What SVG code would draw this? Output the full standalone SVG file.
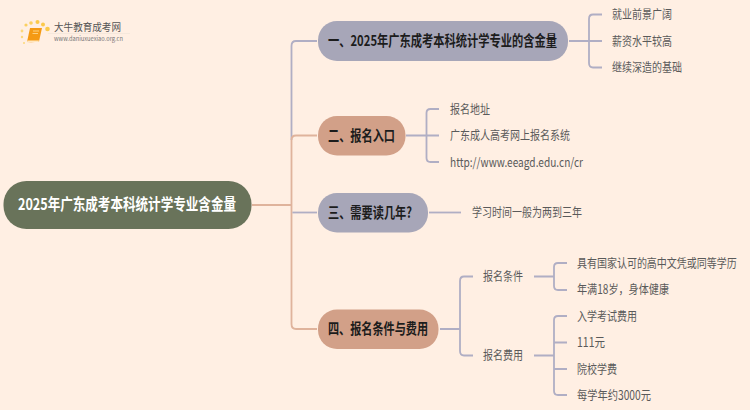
<svg xmlns="http://www.w3.org/2000/svg" width="750" height="410" viewBox="0 0 750 410">
<style>
text{font-family:"Noto Sans CJK SC","Liberation Sans",sans-serif}
.c{fill:none;stroke-width:1.800;stroke-linecap:butt}
.p{stroke:#b0aec4}
.s{stroke:#dfb39c}
.h{font-size:14.500px;font-weight:700;fill:#1c1c1c}
.l{font-size:12.500px;fill:#5a5a5a}
</style>
<rect width="750" height="410" fill="#ffefe3"/>
<g id="connectors">
<path class="c p" d="M317 41H296Q291.500 41 291.500 46V140"/>
<path class="c s" d="M317 135.500H296Q291.500 135.500 291.500 140V324Q291.500 329 296 329H317"/>
<path class="c s" d="M252 205H291.500"/>
<path class="c p" d="M292.400 212.500H317"/>
<path class="c p" d="M569 41H602M602 14.500H593Q589 14.500 589 19V63Q589 67.500 593 67.500H602"/>
<path class="c p" d="M406 135.500H439M439 109H430.500Q426.500 109 426.500 113V158Q426.500 162 430.500 162H439"/>
<path class="c p" d="M429 212.500H461"/>
<path class="c p" d="M440 329H460M473 276.500H464Q460 276.500 460 281V351Q460 355.500 464 355.500H473"/>
<path class="c p" d="M534 276.500H554M567 263H558Q554 263 554 267V286Q554 290 558 290H567"/>
<path class="c p" d="M534 355.500H554M567 316H558Q554 316 554 320V391Q554 395 558 395H567M554 342.500H567M554 369H567"/>
</g>
<g id="logo">
<circle cx="22" cy="37" r="1.200" fill="#fcd87a"/><circle cx="22" cy="31" r="1.400" fill="#fcd87a"/><circle cx="26" cy="25" r="1.600" fill="#fbd060"/><circle cx="31" cy="23" r="1.800" fill="#fbd060"/><circle cx="37.500" cy="22" r="2" fill="#fbc94a"/><circle cx="43" cy="24.500" r="2" fill="#fbc94a"/><circle cx="47.500" cy="29" r="2.300" fill="#fbc94a"/><circle cx="24" cy="43" r="1" fill="#fcd87a"/>
<path d="M30 28H42L39 41.500Q33 42.500 27 42Z" fill="#f59a14"/><path d="M27.500 40.500H39L38.500 42H27Z" fill="#ffe7c0"/><path d="M33 31H39M32.500 33.500H38" stroke="#ffdf9a" stroke-width="0.800"/>
<path d="M48 33.500H130" stroke="#f3e6da" stroke-width="0.800"/>
<text x="54" y="31" font-size="10.500" fill="#555" textLength="67" lengthAdjust="spacingAndGlyphs">大牛教育成考网</text>
<text x="54" y="41" font-size="6" fill="#777" textLength="69" lengthAdjust="spacingAndGlyphs">www.daniuxuexiao.org.cn</text>
</g>
<g id="root"><rect x="3.500" y="181" width="248" height="48" rx="23" fill="#69735a"/><text x="18" y="210" font-size="16" font-weight="700" fill="#fff" textLength="218" lengthAdjust="spacingAndGlyphs">2025年广东成考本科统计学专业含金量</text></g>
<g id="n1"><rect x="318" y="21" width="250" height="40" rx="19" fill="#a7a6b8"/><text transform="translate(328 46) scale(.776 1)" class="h">一、2025年广东成考本科统计学专业的含金量</text></g>
<g id="n2"><rect x="318" y="116" width="87.500" height="39.500" rx="19" fill="#d2a088"/><text x="328" y="140.500" class="h" textLength="67" lengthAdjust="spacingAndGlyphs">二、报名入口</text></g>
<g id="n3"><rect x="318" y="193" width="110" height="39.500" rx="19" fill="#a7a6b8"/><text x="328" y="217.500" class="h" textLength="84" lengthAdjust="spacingAndGlyphs">三、需要读几年?</text></g>
<g id="n4"><rect x="318" y="309.500" width="120.500" height="39.500" rx="19" fill="#d2a088"/><text x="328" y="334" class="h" textLength="100" lengthAdjust="spacingAndGlyphs">四、报名条件与费用</text></g>
<g id="leaves">
<text class="l" x="612" y="19" textLength="60" lengthAdjust="spacingAndGlyphs">就业前景广阔</text>
<text class="l" x="612" y="45.500" textLength="60" lengthAdjust="spacingAndGlyphs">薪资水平较高</text>
<text class="l" x="612" y="72" textLength="70" lengthAdjust="spacingAndGlyphs">继续深造的基础</text>
<text class="l" x="450" y="113.500" textLength="40" lengthAdjust="spacingAndGlyphs">报名地址</text>
<text class="l" x="450" y="140" textLength="120" lengthAdjust="spacingAndGlyphs">广东成人高考网上报名系统</text>
<text class="l" x="450" y="166.500" textLength="133" lengthAdjust="spacingAndGlyphs">http://www.eeagd.edu.cn/cr</text>
<text class="l" x="472" y="217" textLength="110" lengthAdjust="spacingAndGlyphs">学习时间一般为两到三年</text>
<text class="l" x="483" y="281" textLength="40" lengthAdjust="spacingAndGlyphs">报名条件</text>
<text class="l" x="483" y="360" textLength="40" lengthAdjust="spacingAndGlyphs">报名费用</text>
<text class="l" transform="translate(577 268) scale(.8 1)">具有国家认可的高中文凭或同等学历</text>
<text class="l" x="577" y="294" textLength="92" lengthAdjust="spacingAndGlyphs">年满18岁，身体健康</text>
<text class="l" x="577" y="320.500" textLength="60" lengthAdjust="spacingAndGlyphs">入学考试费用</text>
<text class="l" x="577" y="347" textLength="28" lengthAdjust="spacingAndGlyphs">111元</text>
<text class="l" x="577" y="373.500" textLength="40" lengthAdjust="spacingAndGlyphs">院校学费</text>
<text class="l" x="577" y="399.500" textLength="74" lengthAdjust="spacingAndGlyphs">每学年约3000元</text>
</g>
</svg>
